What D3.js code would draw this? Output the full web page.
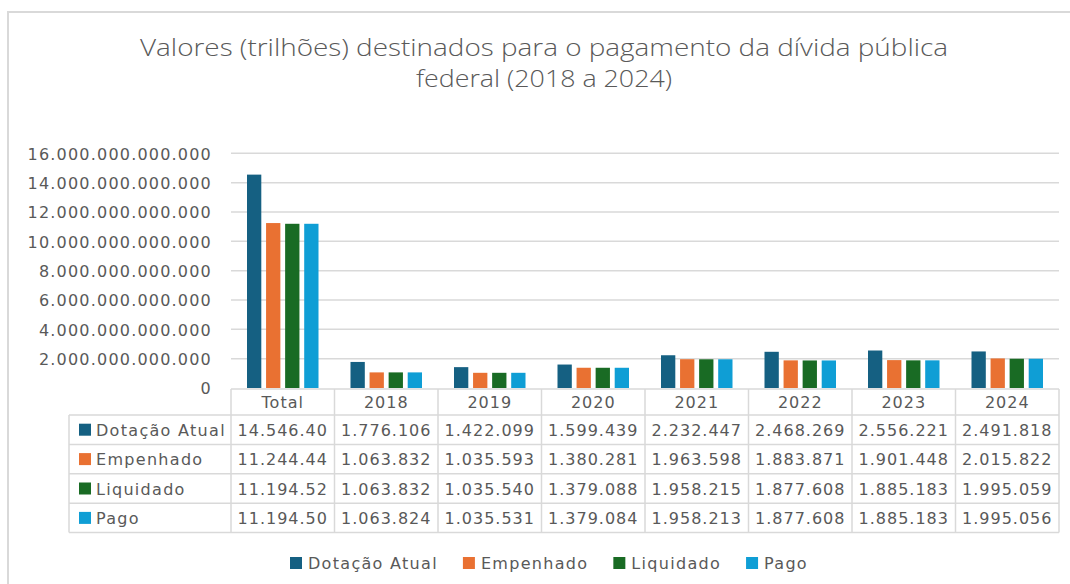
<!DOCTYPE html>
<html>
<head>
<meta charset="utf-8">
<script src="https://cdn.jsdelivr.net/npm/d3@7"></script>
<style>
  body { margin: 0; background: #fff; }
  svg { display: block; }
</style>
</head>
<body>
<svg id="chart" width="1070" height="584"></svg>
<script>
// categorias e séries (valores em milhões de R$)
var categories = ['Total', '2018', '2019', '2020', '2021', '2022', '2023', '2024'];
var seriesNames = ['Dotação Atual', 'Empenhado', 'Liquidado', 'Pago'];
var seriesColors = ['#156082', '#E97132', '#196B24', '#0F9ED5'];

var dotacao   = [14546400, 1776106, 1422099, 1599439, 2232447, 2468269, 2556221, 2491818];
var empenhado = [11244440, 1063832, 1035593, 1380281, 1963598, 1883871, 1901448, 2015822];
var liquidado = [11194520, 1063832, 1035540, 1379088, 1958215, 1877608, 1885183, 1995059];
var pago      = [11194500, 1063824, 1035531, 1379084, 1958213, 1877608, 1885183, 1995056];

var yTicks = [0, 2e12, 4e12, 6e12, 8e12, 10e12, 12e12, 14e12, 16e12];
var titleLines = ['Valores (trilhões) destinados para o pagamento da dívida pública', 'federal (2018 a 2024)'];

var allSeries = [dotacao, empenhado, liquidado, pago];

var svg = d3.select('#chart');
var gray = '#595959', lineCol = '#d9d9d9';
var fontNum = '"DejaVu Sans", Verdana, sans-serif';

// moldura
svg.append('rect')
  .attr('x', 8).attr('y', 12)
  .attr('width', 1100).attr('height', 600)
  .attr('fill', 'none')
  .attr('stroke', lineCol)
  .attr('stroke-width', 2);

// titulo
var titleW = [808, 256];
titleLines.forEach(function(t, i){
  svg.append('text')
    .attr('x', 544).attr('y', 56 + i * 31)
    .attr('text-anchor', 'middle')
    .attr('font-family', '"Open Sans", "Liberation Sans", sans-serif')
    .attr('font-weight', 300)
    .attr('font-size', 24)
    .attr('fill', gray)
    .attr('textLength', titleW[i])
    .attr('lengthAdjust', 'spacingAndGlyphs')
    .text(t);
});

var plotL = 231, plotR = 1059, plotT = 153.3, plotB = 388;

var x0 = d3.scaleBand().domain(categories).range([plotL, plotR]).padding(0);
var x1 = d3.scaleBand().domain(d3.range(seriesNames.length))
  .range([16, x0.bandwidth() - 16]).paddingInner(0.25);
var y = d3.scaleLinear().domain([0, 16e12]).range([plotB, plotT]);

var ptBR = d3.formatLocale({decimal: ',', thousands: '.', grouping: [3], currency: ['R$', '']});
var fmt = ptBR.format(',d');

// linhas de grade
svg.append('g').selectAll('line')
  .data(yTicks.filter(function(d){ return d > 0; }))
  .join('line')
  .attr('x1', plotL).attr('x2', plotR)
  .attr('y1', function(d){ return y(d); })
  .attr('y2', function(d){ return y(d); })
  .attr('stroke', lineCol).attr('stroke-width', 1.5);

// eixo y
var yAxis = svg.append('g')
  .attr('transform', 'translate(' + (plotL - 19) + ',0)')
  .call(d3.axisLeft(y).tickValues(yTicks).tickFormat(fmt).tickSize(0).tickPadding(0));
yAxis.select('.domain').remove();
yAxis.selectAll('text')
  .attr('font-family', fontNum)
  .attr('font-size', 16)
  .attr('letter-spacing', 1.2)
  .attr('fill', gray)
  .attr('dy', '0.36em');

// barras
var groups = svg.append('g').selectAll('g')
  .data(categories)
  .join('g')
  .attr('transform', function(d){ return 'translate(' + x0(d) + ',0)'; });

groups.selectAll('rect')
  .data(function(d, ci){
    return allSeries.map(function(s, si){ return {si: si, v: s[ci] * 1e6}; });
  })
  .join('rect')
  .attr('x', function(d){ return x1(d.si); })
  .attr('width', x1.bandwidth())
  .attr('y', function(d){ return y(d.v); })
  .attr('height', function(d){ return plotB - y(d.v); })
  .attr('fill', function(d){ return seriesColors[d.si]; });

// tabela de dados
var headTop = 389, headH = 26, rowH = 29.4, tableLeft = 69;
var tbl = svg.append('g');
var tableBottom = headTop + headH + rowH * seriesNames.length;

// linhas horizontais
tbl.append('line').attr('x1', plotL).attr('x2', plotR)
  .attr('y1', headTop).attr('y2', headTop)
  .attr('stroke', lineCol).attr('stroke-width', 1.5);
d3.range(seriesNames.length + 1).forEach(function(i){
  var yy = headTop + headH + rowH * i;
  tbl.append('line').attr('x1', tableLeft).attr('x2', plotR)
    .attr('y1', yy).attr('y2', yy)
    .attr('stroke', lineCol).attr('stroke-width', 1.5);
});
// linhas verticais
tbl.append('line').attr('x1', tableLeft).attr('x2', tableLeft)
  .attr('y1', headTop + headH).attr('y2', tableBottom)
  .attr('stroke', lineCol).attr('stroke-width', 1.5);
categories.concat(['_end']).forEach(function(c, i){
  var xx = i < categories.length ? x0(c) : plotR;
  tbl.append('line').attr('x1', xx).attr('x2', xx)
    .attr('y1', headTop).attr('y2', tableBottom)
    .attr('stroke', lineCol).attr('stroke-width', 1.5);
});

// cabecalho
tbl.selectAll('text.cat')
  .data(categories)
  .join('text')
  .attr('class', 'cat')
  .attr('x', function(d){ return x0(d) + x0.bandwidth() / 2; })
  .attr('y', headTop + headH / 2 + 6)
  .attr('text-anchor', 'middle')
  .attr('font-family', fontNum).attr('font-size', 16)
  .attr('letter-spacing', 1).attr('fill', gray)
  .text(function(d){ return d; });

// linhas de series
seriesNames.forEach(function(name, si){
  var cy = headTop + headH + rowH * si + rowH / 2;
  tbl.append('rect')
    .attr('x', 79).attr('y', cy - 6)
    .attr('width', 12).attr('height', 12)
    .attr('fill', seriesColors[si]);
  tbl.append('text')
    .attr('x', 96).attr('y', cy + 6)
    .attr('font-family', fontNum).attr('font-size', 16)
    .attr('letter-spacing', 1.3).attr('fill', gray)
    .text(name);
  allSeries[si].forEach(function(v, ci){
    var s = fmt(v);
    if (ci === 0) s = s.slice(0, -1); // celula cortada como no Excel
    tbl.append('text')
      .attr('x', x0(categories[ci]) + x0.bandwidth() / 2)
      .attr('y', cy + 6)
      .attr('text-anchor', 'middle')
      .attr('font-family', fontNum).attr('font-size', 16)
      .attr('letter-spacing', 1).attr('fill', gray)
      .text(s);
  });
});

// legenda
var legend = svg.append('g');
var lx = 290;
seriesNames.forEach(function(name, si){
  var g = legend.append('g').attr('transform', 'translate(' + lx + ',563)');
  g.append('rect').attr('x', 0).attr('y', -6).attr('width', 12).attr('height', 12)
    .attr('fill', seriesColors[si]);
  var t = g.append('text').attr('x', 18).attr('y', 6)
    .attr('font-family', fontNum).attr('font-size', 16)
    .attr('letter-spacing', 1.3).attr('fill', gray)
    .text(name);
  lx += 18 + t.node().getComputedTextLength() + 25;
});
</script>
</body>
</html>
